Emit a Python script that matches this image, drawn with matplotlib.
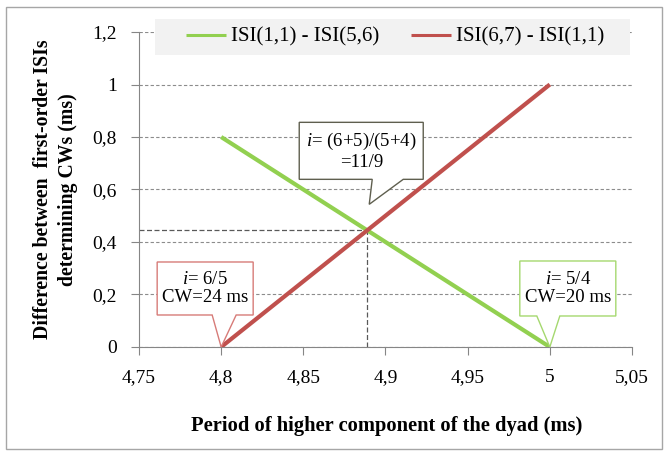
import numpy as np
import matplotlib
matplotlib.use("Agg")
import matplotlib.pyplot as plt
from matplotlib.patches import Polygon, Rectangle
from matplotlib.transforms import ScaledTranslation
from matplotlib.ticker import FuncFormatter

plt.rcParams['font.family'] = ['Liberation Serif', 'DejaVu Serif']
plt.rcParams['mathtext.fontset'] = 'custom'
plt.rcParams['mathtext.rm'] = 'Liberation Serif'
plt.rcParams['mathtext.it'] = 'Liberation Serif:italic'

# data
period = [4.8, 5.0]
green_diff = [0.8, 0.0]   # ISI(1,1) - ISI(5,6)
red_diff = [0.0, 1.0]     # ISI(6,7) - ISI(1,1)
green_label = "ISI(1,1) - ISI(5,6)"
red_label = "ISI(6,7) - ISI(1,1)"
x_ticks = [4.75, 4.8, 4.85, 4.9, 4.95, 5.0, 5.05]
y_ticks = [0, 0.2, 0.4, 0.6, 0.8, 1.0, 1.2]

green = '#92d050'
red = '#c0504d'

fig = plt.figure(figsize=(6.67, 4.54), dpi=100)
ax = fig.add_axes([0.2084, 0.2357, 0.7391, 0.6938])

# outer frame
fig.patches.append(Rectangle((0.009, 0.011), 0.984, 0.974, transform=fig.transFigure,
                             fill=False, edgecolor='#a6a6a6', linewidth=1.0))

ax.plot(period, green_diff, color=green, linewidth=3.0, label=green_label, zorder=3, solid_capstyle='butt')
ax.plot(period, red_diff, color=red, linewidth=3.0, label=red_label, zorder=3, solid_capstyle='butt')

# intersection of the two lines
g_slope = (green_diff[1] - green_diff[0]) / (period[1] - period[0])
r_slope = (red_diff[1] - red_diff[0]) / (period[1] - period[0])
x_int = period[0] + (green_diff[0] - red_diff[0]) / (r_slope - g_slope)
y_int = red_diff[0] + r_slope * (x_int - period[0])
ax.plot([x_ticks[0], x_int], [y_int, y_int], color='#595959', linestyle=(0, (4, 2)), linewidth=0.9, zorder=2)
ax.plot([x_int, x_int], [0, y_int], color='#595959', linestyle=(0, (4, 2)), linewidth=0.9, zorder=2)

ax.set_xlim(x_ticks[0], x_ticks[-1])
ax.set_ylim(y_ticks[0], y_ticks[-1])
ax.set_xticks(x_ticks)
ax.set_yticks(y_ticks)
fmt = FuncFormatter(lambda v, p: ('%g' % round(v, 2)).replace('.', ','))
ax.xaxis.set_major_formatter(fmt)
ax.yaxis.set_major_formatter(fmt)

for s in ['top', 'right']:
    ax.spines[s].set_visible(False)
for s in ['left', 'bottom']:
    ax.spines[s].set_color('#868686')
ax.tick_params(direction='out', length=6, color='#868686', labelsize=14)
ax.tick_params(axis='y', pad=10)
ax.tick_params(axis='x', pad=10)
ax.yaxis.grid(True, color='#8c8c8c', linestyle=(0, (3, 2)), linewidth=0.8)
ax.set_axisbelow(True)

ax.set_xlabel("Period of higher component of the dyad (ms)", fontsize=14.8, fontweight='bold')
ax.set_ylabel("Difference between  first-order ISIs\ndetermining CWs (ms)", fontsize=14.2,
              fontweight='bold', linespacing=1.35)
ax.xaxis.set_label_coords(0.503, -0.219)
ax.yaxis.set_label_coords(-0.124, 0.5)

# legend background band (wider than the entries, as in the original)
ax.add_patch(Rectangle((0.2324, 0.8789), 0.7121, 0.0793, transform=fig.transFigure,
                       facecolor='#f2f2f2', edgecolor='none', clip_on=False, zorder=4))
leg = ax.legend(loc='center', bbox_to_anchor=(0.592, 0.9185), bbox_transform=fig.transFigure,
                ncol=2, fontsize=15, frameon=False, handlelength=1.92, handletextpad=0.24,
                columnspacing=1.54)
leg.set_zorder(5)
for ln in leg.get_lines():
    ln.set_linewidth(2.2)


def callout(x, y, box, base, tip, text, edge, text_xy):
    # box = (left, right, bottom, top) in inches relative to the anchor (x, y)
    trans = fig.dpi_scale_trans + ScaledTranslation(x, y, ax.transData)
    l, r, b, t = box
    verts = [(l, b), (base[0], b), tip, (base[1], b), (r, b), (r, t), (l, t)]
    ax.add_patch(Polygon(verts, closed=True, transform=trans, facecolor='white',
                         edgecolor=edge, linewidth=1.0, clip_on=False, zorder=5))
    ax.text(text_xy[0], text_xy[1], text, transform=trans, ha='center', va='center',
            fontsize=13.5, zorder=6, linespacing=1.1)


callout(x_int, y_int, (-0.68, 0.56, 0.51, 1.08), (0.05, 0.36), (0.02, 0.26),
        "$i$= (6+5)/(5+4)\n=11/9", '#5f5f4f', (-0.06, 0.795))
callout(period[0], red_diff[0], (-0.64, 0.32, 0.32, 0.85), (-0.09, 0.15), (0, 0),
        "$i$= 6/5\nCW=24 ms", '#d77b78', (-0.16, 0.585))
callout(period[1], green_diff[1], (-0.30, 0.66, 0.31, 0.86), (-0.13, 0.10), (0, 0),
        "$i$= 5/4\nCW=20 ms", '#a5d86f', (0.18, 0.585))

fig.savefig("out.png", dpi=100)
